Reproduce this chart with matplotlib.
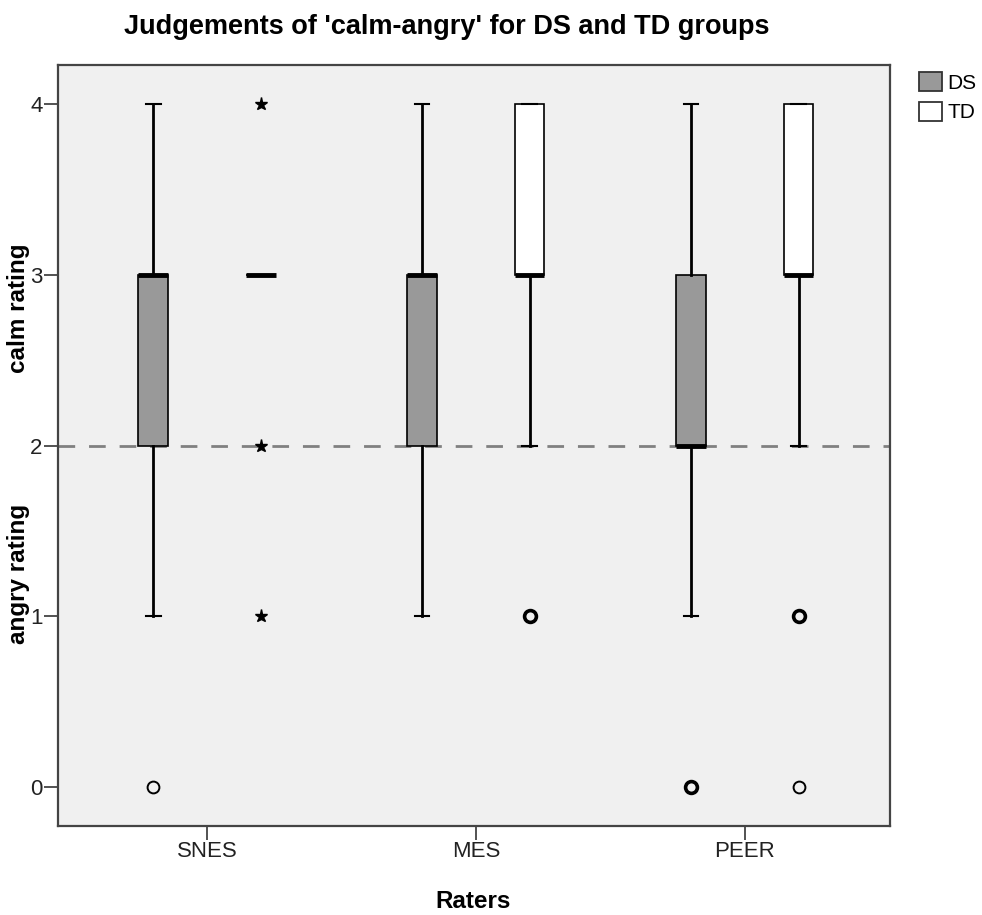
import matplotlib
matplotlib.use("Agg")
import matplotlib.pyplot as plt
from matplotlib.patches import Patch

plt.rcParams['font.family'] = ['Liberation Sans', 'DejaVu Sans']

# Rater groups on the x axis
raters = ['SNES', 'MES', 'PEER']

# Box summaries per rater: [whisker low, Q1, median, Q3, whisker high]
ds_stats = [
    [1, 2, 3, 3, 4],
    [1, 2, 3, 3, 4],
    [1, 2, 2, 3, 4],
]
td_stats = [
    [3, 3, 3, 3, 3],
    [2, 3, 3, 4, 4],
    [2, 3, 3, 4, 4],
]

# Outliers as (value, number of cases); extremes drawn as stars
ds_outliers = [[(0, 1)], [], [(0, 3)]]
td_outliers = [[], [(1, 3)], [(1, 3), (0, 1)]]
ds_extremes = [[], [], []]
td_extremes = [[4, 2, 1], [], []]

ds_color = '#999999'
td_color = '#ffffff'
bg_color = '#f0f0f0'

fig = plt.figure(figsize=(9.82, 9.15), dpi=100)
ax = fig.add_axes([58 / 982, 1 - 826 / 915, 832 / 982, 761 / 915])
ax.set_facecolor(bg_color)

offset = 0.2
box_w = 0.11


def to_bxp(stats):
    out = []
    for lo, q1, med, q3, hi in stats:
        out.append(dict(whislo=lo, q1=q1, med=med, q3=q3, whishi=hi, fliers=[]))
    return out


for stats, shift, color in [(ds_stats, -offset, ds_color), (td_stats, offset, td_color)]:
    pos = [i + shift for i in range(len(raters))]
    ax.bxp(to_bxp(stats), positions=pos, widths=box_w, patch_artist=True,
           showfliers=False,
           boxprops=dict(facecolor=color, edgecolor='black', linewidth=1.2),
           medianprops=dict(color='black', linewidth=3.5, solid_capstyle='butt'),
           whiskerprops=dict(color='black', linewidth=2),
           capprops=dict(color='black', linewidth=1.5),
           capwidths=box_w / 2, zorder=3)

# outlier circles; several coinciding cases give a heavier ring
for outs, shift in [(ds_outliers, -offset), (td_outliers, offset)]:
    for i, pts in enumerate(outs):
        for val, n in pts:
            ax.plot(i + shift, val, 'o', markersize=8.5, markerfacecolor='none',
                    markeredgecolor='black', markeredgewidth=1.4 if n == 1 else 2.6,
                    zorder=4)

for ext, shift in [(ds_extremes, -offset), (td_extremes, offset)]:
    for i, vals in enumerate(ext):
        for val in vals:
            ax.plot(i + shift, val, '*', markersize=9.5, color='black', zorder=4)

# reference line at the scale midpoint
ax.axhline(2, color='#808080', linewidth=2, dashes=(6, 5), zorder=2)

ax.set_xlim(-0.554, 2.54)
ax.set_ylim(-0.228, 4.228)
ax.set_xticks(range(len(raters)))
ax.set_xticklabels(raters)
ax.set_yticks([0, 1, 2, 3, 4])
ax.tick_params(direction='out', length=10, width=1.3, color='#444444',
               labelsize=16, labelcolor='#222222', pad=1)
for side in ax.spines.values():
    side.set_color('#444444')
    side.set_linewidth(1.6)

fig.text(447 / 982, 1 - 34 / 915, "Judgements of 'calm-angry' for DS and TD groups",
         ha='center', va='baseline', fontsize=19.5, fontweight='bold')
fig.text(473 / 982, 1 - 901 / 915, 'Raters', ha='center', va='center',
         fontsize=17.5, fontweight='bold')
fig.text(19 / 982, 1 - 308 / 915, 'calm rating', rotation=90, ha='center',
         va='center', fontsize=17.5, fontweight='bold')
fig.text(19 / 982, 1 - 574 / 915, 'angry rating', rotation=90, ha='center',
         va='center', fontsize=17.5, fontweight='bold')

handles = [Patch(facecolor=ds_color, edgecolor='#333333', linewidth=1.3, label='DS'),
           Patch(facecolor=td_color, edgecolor='#333333', linewidth=1.3, label='TD')]
fig.legend(handles=handles, loc='upper left', bbox_to_anchor=(919 / 982, 1 - 72 / 915),
           frameon=False, fontsize=15, handlelength=1.1, handleheight=1.05,
           handletextpad=0.25, labelspacing=0.42, borderaxespad=0, borderpad=0)

fig.savefig('out.png', dpi=100, facecolor='white')
